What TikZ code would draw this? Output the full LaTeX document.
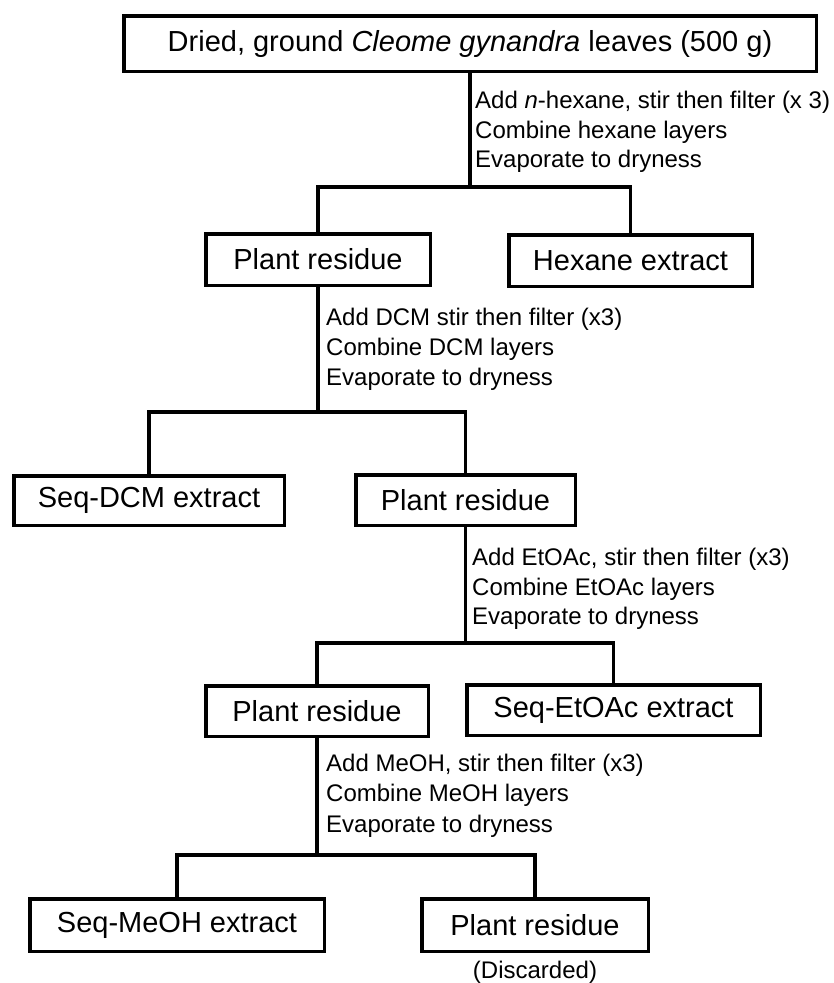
\documentclass[tikz,border=0pt]{standalone}
\usepackage{fontspec}
\setmainfont{Liberation Sans}
\begin{document}
\begin{tikzpicture}[x=1pt,y=1pt,
  stepbox/.style={draw, line width=3.5pt, inner sep=0pt, anchor=center, font=\fontsize{29}{35}\selectfont},
  link/.style={line width=3.3pt},
  lab/.style={anchor=base west, inner sep=0pt, font=\fontsize{24}{29}\selectfont},
  note/.style={anchor=base, inner sep=0pt, font=\fontsize{24}{29}\selectfont}]
\useasboundingbox (0,0) rectangle (834,-983);

% boxes
\node[stepbox, minimum width=692.5pt, minimum height=55.5pt] (top) at (470,-43.5) {Dried, ground \textit{Cleome gynandra} leaves (500 g)};
\node[stepbox, minimum width=224.5pt, minimum height=51.5pt] (pr1) at (318,-259.5) {Plant residue};
\node[stepbox, minimum width=243.5pt, minimum height=51.5pt] (hex) at (630.5,-260.5) {Hexane extract};
\node[stepbox, minimum width=270.5pt, minimum height=49.5pt] (dcm) at (149,-500.5) {Seq-DCM extract};
\node[stepbox, minimum width=219.5pt, minimum height=50.5pt] (pr2) at (465.5,-500) {Plant residue};
\node[stepbox, minimum width=222.5pt, minimum height=50.5pt] (pr3) at (317,-711) {Plant residue};
\node[stepbox, minimum width=293.5pt, minimum height=50.5pt] (eta) at (613.5,-710) {Seq-EtOAc extract};
\node[stepbox, minimum width=294.5pt, minimum height=52.5pt] (meo) at (177,-925) {Seq-MeOH extract};
\node[stepbox, minimum width=226.5pt, minimum height=52.5pt] (pr4) at (535,-925) {Plant residue};
\node[note] (disc) at (535,-978) {(Discarded)};

% junctions
\coordinate (j1) at (470,-187);
\coordinate (j2) at (318,-412);
\coordinate (j3) at (465.5,-643);
\coordinate (j4) at (317,-855);

% connectors
\draw[link] (top.south) -- (j1);
\draw[link] (pr1.north) |- (j1) -| (hex.north);
\draw[link] (pr1.south) -- (j2);
\draw[link] (dcm.north) |- (j2) -| (pr2.north);
\draw[link] (pr2.south) -- (j3);
\draw[link] (pr3.north) |- (j3) -| (eta.north);
\draw[link] (pr3.south) -- (j4);
\draw[link] (meo.north) |- (j4) -| (pr4.north);

% labels
\node[lab] (l1a) at (475,-108) {Add \textit{n}-hexane, stir then filter (x 3)};
\node[lab] (l1b) at (475,-138) {Combine hexane layers};
\node[lab] (l1c) at (475,-167) {Evaporate to dryness};
\node[lab] (l2a) at (326,-325) {Add DCM stir then filter (x3)};
\node[lab] (l2b) at (326,-355) {Combine DCM layers};
\node[lab] (l2c) at (326,-385) {Evaporate to dryness};
\node[lab] (l3a) at (472,-565) {Add EtOAc, stir then filter (x3)};
\node[lab] (l3b) at (472,-595) {Combine EtOAc layers};
\node[lab] (l3c) at (472,-624) {Evaporate to dryness};
\node[lab] (l4a) at (326,-771) {Add MeOH, stir then filter (x3)};
\node[lab] (l4b) at (326,-801) {Combine MeOH layers};
\node[lab] (l4c) at (326,-832) {Evaporate to dryness};
\end{tikzpicture}
\end{document}
